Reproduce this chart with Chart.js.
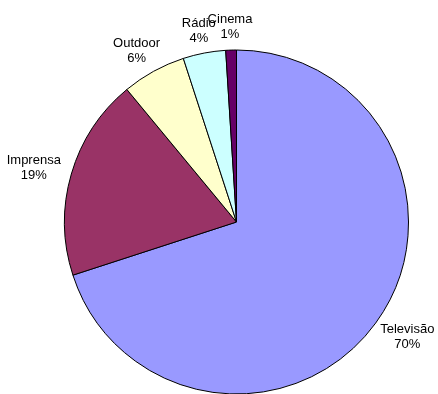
<!DOCTYPE html>
<html>
<head>
<meta charset="utf-8">
<script src="https://cdn.jsdelivr.net/npm/chart.js@4/dist/chart.umd.min.js"></script>
<style>
  html, body { margin: 0; padding: 0; background: #fff; overflow: hidden; }
  #wrap { position: relative; width: 438px; height: 394px; overflow: hidden; }
  #chart { position: absolute; left: 0; top: -21px; }
</style>
</head>
<body>
<div id="wrap"><canvas id="chart" width="438" height="415"></canvas></div>
<script>
const meios = ['Televisão', 'Imprensa', 'Outdoor', 'Rádio', 'Cinema'];
const percentagens = [70, 19, 6, 4, 1];
const cores = ['#9999FF', '#993366', '#FFFFCC', '#CCFFFF', '#660066'];

const ctx = document.querySelector('#chart').getContext('2d');

// labels outside each slice: name on top, percentage below
const rotulos = {
    id: 'rotulos',
    afterDraw(chart) {
        const c = chart.ctx;
        const arcs = chart.getDatasetMeta(0).data;
        const total = percentagens.reduce((a, b) => a + b, 0);
        c.save();
        c.font = '13px "Liberation Sans", Arial, sans-serif';
        c.fillStyle = '#000';
        c.textAlign = 'center';
        c.textBaseline = 'middle';
        arcs.forEach((arc, i) => {
            const p = arc.getProps(['x', 'y', 'startAngle', 'endAngle', 'outerRadius'], true);
            const mid = (p.startAngle + p.endAngle) / 2;
            const cos = Math.cos(mid), sin = Math.sin(mid);
            const txt1 = meios[i];
            const txt2 = Math.round(percentagens[i] / total * 100) + '%';
            const w = Math.max(c.measureText(txt1).width, c.measureText(txt2).width);
            const h = 22;
            const r = p.outerRadius + 12;
            const x = p.x + cos * r + cos * w / 2;
            const y = p.y + sin * r + sin * h / 2;
            c.fillText(txt1, x, y - 7.5);
            c.fillText(txt2, x, y + 7.5);
        });
        c.restore();
    }
};

new Chart(ctx, {
    type: 'pie',
    data: {
        labels: meios,
        datasets: [{
            data: percentagens,
            backgroundColor: cores,
            borderColor: '#000',
            borderWidth: 1
        }]
    },
    options: {
        responsive: false,
        animation: false,
        radius: 172,
        layout: { padding: { left: 64, right: 29, top: 0, bottom: 0 } },
        plugins: {
            legend: { display: false },
            tooltip: { enabled: false },
            title: {
                display: true,
                text: 'Repartição do investimento publicitário por meio',
                color: '#000',
                font: { family: '"Liberation Sans", Arial, sans-serif', size: 16, weight: 'bold' },
                padding: { top: 4, bottom: 47.8 }
            }
        }
    },
    plugins: [rotulos]
});
</script>
</body>
</html>
